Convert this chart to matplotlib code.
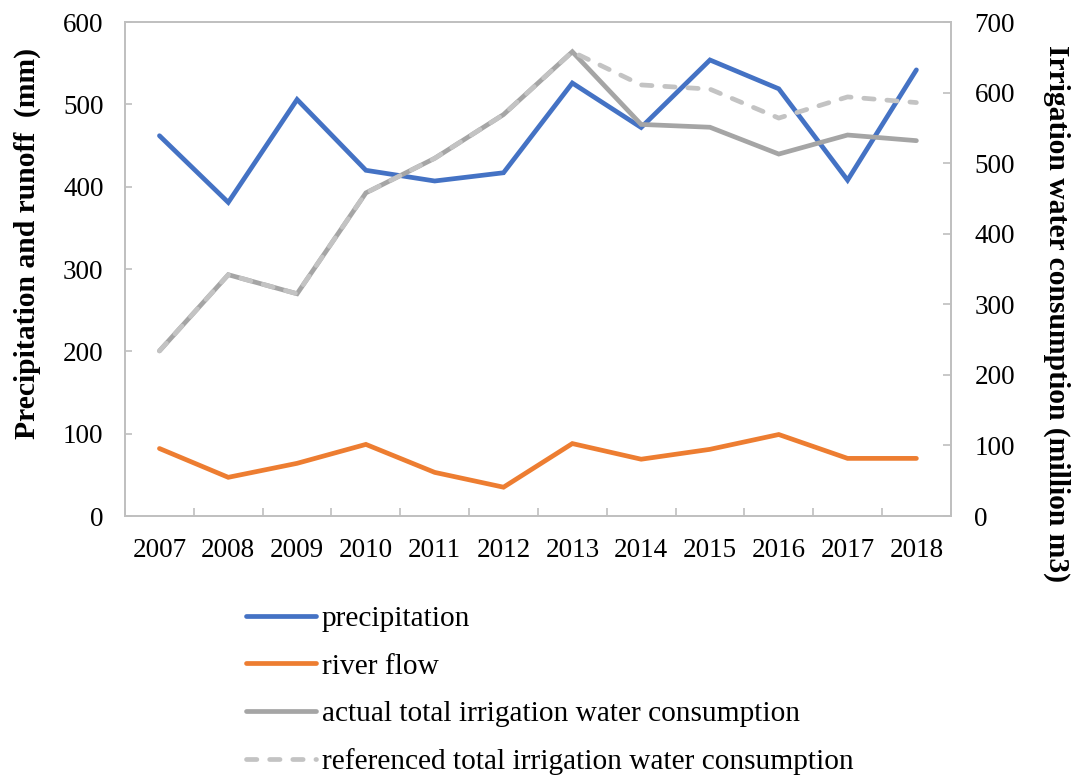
"""Precipitation, river flow and irrigation water consumption, 2007-2018."""

import matplotlib.pyplot as plt
import numpy as np
from matplotlib.ticker import FixedLocator

years = ["2007", "2008", "2009", "2010", "2011", "2012",
         "2013", "2014", "2015", "2016", "2017", "2018"]

# left axis, mm
precipitation = [462, 381, 506, 420, 407, 417, 526, 472, 554, 519, 408, 542]
river_flow = [82, 47, 64, 87, 53, 35, 88, 69, 81, 99, 70, 70]

# right axis, million m3
actual_irrigation = [234, 342, 315, 458, 507, 569, 658, 555, 551, 513, 540, 532]
referenced_irrigation = [234, 342, 315, 458, 507, 569, 658, 611, 605, 564, 594, 586]

plt.rcParams["font.family"] = ["Liberation Serif", "DejaVu Serif"]
FS = 19.5
LABEL_FS = 21.3
LEGEND_FS = 21.2
SPINE = "#BFBFBF"
LW = 3.4

fig = plt.figure(figsize=(10.78, 7.79), dpi=100)
ax = fig.add_axes([0.116, 0.3376, 0.766, 0.634])
ax2 = ax.twinx()

x = np.arange(len(years))

l1, = ax.plot(x, precipitation, color="#4472C4", lw=LW, solid_capstyle="round",
              solid_joinstyle="miter", label="precipitation")
l2, = ax.plot(x, river_flow, color="#ED7D31", lw=LW, solid_capstyle="round",
              solid_joinstyle="miter", label="river flow")
l3, = ax2.plot(x, actual_irrigation, color="#A5A5A5", lw=LW, solid_capstyle="round",
               solid_joinstyle="miter", label="actual total irrigation water consumption")
l4, = ax2.plot(x, referenced_irrigation, color="#C3C3C3", lw=LW, dashes=(2.2, 2.7),
               dash_capstyle="round", label="referenced total irrigation water consumption")

ax.set_xlim(-0.5, len(years) - 0.5)
ax.set_ylim(0, 600)
ax.set_yticks(np.arange(0, 601, 100))
ax2.set_ylim(0, 700)
ax2.set_yticks(np.arange(0, 701, 100))

ax.set_xticks(x)
ax.set_xticklabels(years)
ax.xaxis.set_minor_locator(FixedLocator(np.arange(-0.5, len(years), 1.0)))
ax.tick_params(axis="x", which="major", length=0, pad=16, labelsize=FS)
ax.tick_params(axis="x", which="minor", direction="in", length=6, width=1.2, color=SPINE)
ax.tick_params(axis="y", direction="in", length=5, width=1.2, color=SPINE, pad=15.5, labelsize=FS)
ax2.tick_params(axis="y", direction="in", length=6, width=1.2, color=SPINE, pad=17, labelsize=FS)

for a in (ax, ax2):
    for sp in a.spines.values():
        sp.set_color(SPINE)
        sp.set_linewidth(1.2)

# axis titles sit off-centre, so place them on the figure directly
fig.text(0.025, 0.688, "Precipitation and runoff  (mm)", fontsize=LABEL_FS,
         fontweight="bold", rotation=90, ha="center", va="center")
fig.text(0.9805, 0.598, "Irrigation water consumption (million m3)", fontsize=LABEL_FS,
         fontweight="bold", rotation=270, ha="center", va="center")

fig.legend(handles=[l1, l2, l3, l4], loc="upper left", bbox_to_anchor=(0.217, 0.238),
           frameon=False, fontsize=LEGEND_FS, handlelength=2.38, handletextpad=0.2,
           labelspacing=0.71, borderaxespad=0)

fig.savefig("out.png", dpi=100)
